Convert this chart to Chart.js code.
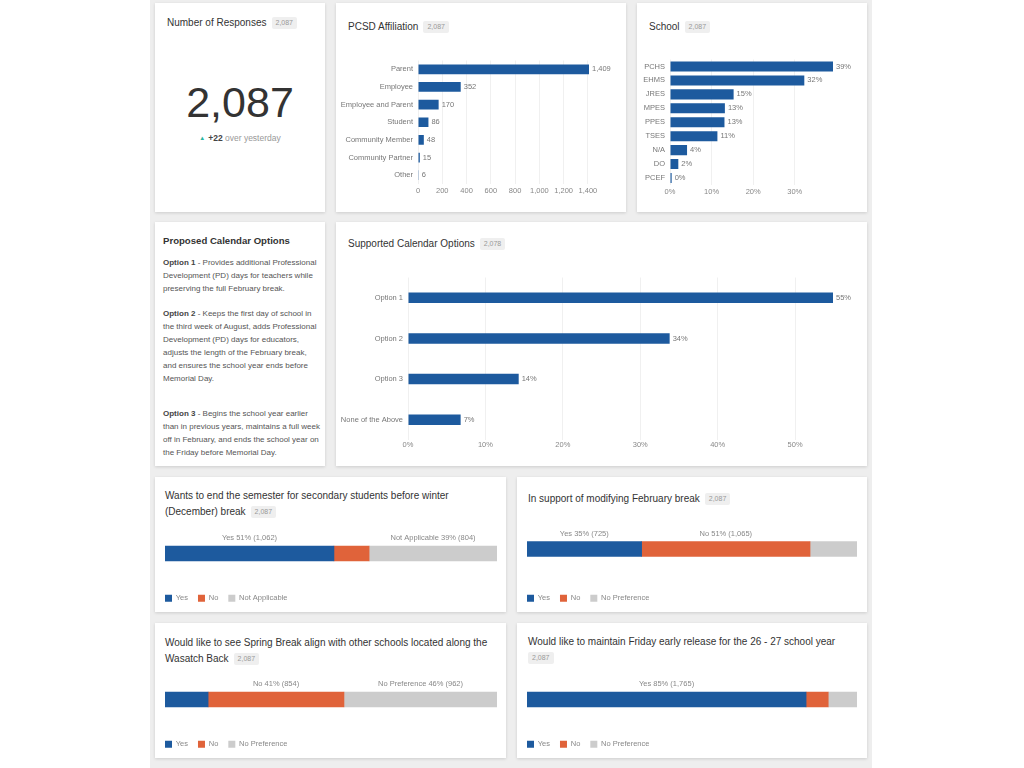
<!DOCTYPE html>
<html>
<head>
<meta charset="utf-8">
<title>Calendar Survey Dashboard</title>
<script src="https://cdn.jsdelivr.net/npm/chart.js@4/dist/chart.umd.min.js"></script>
<style>
  html, body { margin: 0; padding: 0; background: #fff; }
  body { width: 1024px; height: 768px; position: relative; overflow: hidden;
         font-family: "Liberation Sans", Arial, sans-serif; color: #333; }
  .bg { position: absolute; left: 150px; top: 0; width: 722px; height: 768px; background: #eeeeee; }
  .card { position: absolute; background: #fff; box-shadow: 0 1px 3px rgba(0,0,0,0.14); }
  .title { position: absolute; font-size: 10px; line-height: 16px; color: #333; white-space: nowrap; }
  .badge { display: inline-block; font-size: 7px; line-height: 10px; padding: 1px 4px; margin-left: 5px;
           background: #efefef; color: #999; border-radius: 2px; vertical-align: 1px; }
  .box { position: absolute; }
  .big { position: absolute; left: 0; width: 100%; text-align: center; font-size: 43px; line-height: 50px; color: #333; }
  .delta { position: absolute; left: 0; width: 100%; text-align: center; font-size: 8.5px; line-height: 12px; color: #999; }
  .delta b { color: #444; }
  .delta .tri { color: #2bb5a0; font-size: 6px; margin-right: 3px; vertical-align: 1px; }
  .opts { position: absolute; left: 8px; top: 11px; width: 160px; }
  .opts h3 { margin: 0 0 7px 0; font-size: 9.6px; line-height: 16px; color: #333; }
  .opts p { margin: 0; font-size: 8px; line-height: 13px; color: #555; white-space: nowrap; }
  .opts p b { color: #444; }
</style>
</head>
<body>
<div class="bg"></div>

<div class="card" style="left:155px;top:3px;width:170px;height:209px;">
  <div class="title" style="left:12px;top:12px;">Number of Responses<span class="badge">2,087</span></div>
  <div class="big" style="top:74px;">2,087</div>
  <div class="delta" style="top:129px;"><span class="tri">&#9650;</span><b>+22</b> over yesterday</div>
</div>

<div class="card" style="left:336px;top:3px;width:290px;height:209px;">
  <div class="title" style="left:12px;top:16px;">PCSD Affiliation<span class="badge">2,087</span></div>
  <div class="box" style="left:0;top:48px;width:290px;height:153px;"><canvas id="affiliation"></canvas></div>
</div>

<div class="card" style="left:637px;top:3px;width:230px;height:209px;">
  <div class="title" style="left:12px;top:16px;">School<span class="badge">2,087</span></div>
  <div class="box" style="left:0;top:47px;width:230px;height:154px;"><canvas id="school"></canvas></div>
</div>

<div class="card" style="left:155px;top:222px;width:170px;height:244px;">
  <div class="opts">
    <h3>Proposed Calendar Options</h3>
    <p><b>Option 1</b> - Provides additional Professional<br>Development (PD) days for teachers while<br>preserving the full February break.</p>
    <p style="margin-top:12px;"><b>Option 2</b> - Keeps the first day of school in<br>the third week of August, adds Professional<br>Development (PD) days for educators,<br>adjusts the length of the February break,<br>and ensures the school year ends before<br>Memorial Day.</p>
    <p style="margin-top:22px;"><b>Option 3</b> - Begins the school year earlier<br>than in previous years, maintains a full week<br>off in February, and ends the school year on<br>the Friday before Memorial Day.</p>
  </div>
</div>

<div class="card" style="left:336px;top:222px;width:531px;height:244px;">
  <div class="title" style="left:12px;top:14px;">Supported Calendar Options<span class="badge">2,078</span></div>
  <div class="box" style="left:0;top:46px;width:531px;height:187px;"><canvas id="options"></canvas></div>
</div>

<div class="card" style="left:155px;top:477px;width:351px;height:135px;">
  <div class="title" style="left:10px;top:11px;">Wants to end the semester for secondary students before winter<br>(December) break<span class="badge">2,087</span></div>
  <div class="box" style="left:0;top:40px;width:351px;height:95px;"><canvas id="semester"></canvas></div>
</div>

<div class="card" style="left:517px;top:477px;width:350px;height:135px;">
  <div class="title" style="left:11px;top:14px;">In support of modifying February break<span class="badge">2,087</span></div>
  <div class="box" style="left:0;top:36px;width:350px;height:99px;"><canvas id="february"></canvas></div>
</div>

<div class="card" style="left:155px;top:623px;width:351px;height:135px;">
  <div class="title" style="left:10px;top:12px;">Would like to see Spring Break align with other schools located along the<br>Wasatch Back<span class="badge">2,087</span></div>
  <div class="box" style="left:0;top:40px;width:351px;height:95px;"><canvas id="spring"></canvas></div>
</div>

<div class="card" style="left:517px;top:623px;width:350px;height:135px;">
  <div class="title" style="left:11px;top:11px;">Would like to maintain Friday early release for the 26 - 27 school year<br><span class="badge" style="margin-left:0;">2,087</span></div>
  <div class="box" style="left:0;top:40px;width:350px;height:95px;"><canvas id="friday"></canvas></div>
</div>

<script>
// data
const affiliationLabels = ['Parent', 'Employee', 'Employee and Parent', 'Student', 'Community Member', 'Community Partner', 'Other'];
const affiliationCounts = [1409, 352, 170, 86, 48, 15, 6];
const affiliationTicks = [0, 200, 400, 600, 800, 1000, 1200, 1400];

const schoolLabels = ['PCHS', 'EHMS', 'JRES', 'MPES', 'PPES', 'TSES', 'N/A', 'DO', 'PCEF'];
const schoolPercents = [39.2, 32.3, 15.3, 13.2, 13.1, 11.4, 4.1, 2.0, 0.4];
const schoolTicks = [0, 10, 20, 30];

const optionLabels = ['Option 1', 'Option 2', 'Option 3', 'None of the Above'];
const optionPercents = [54.9, 33.8, 14.3, 6.8];
const optionTicks = [0, 10, 20, 30, 40, 50];

const yesNoNaLabels = ['Yes', 'No', 'Not Applicable'];
const yesNoPrefLabels = ['Yes', 'No', 'No Preference'];
const semesterCounts = [1062, 221, 804];
const februaryCounts = [725, 1065, 297];
const springCounts = [271, 854, 962];
const fridayCounts = [1765, 140, 182];

const BLUE = '#1d5a9e';
const ORANGE = '#e0633a';
const GREY = '#cccccc';
const FONT = '"Liberation Sans", Arial, sans-serif';

Chart.defaults.font.family = FONT;
Chart.defaults.animation = false;

// value written just past the end of each bar
function endLabels(format) {
  return {
    id: 'endLabels',
    afterDatasetsDraw(chart) {
      const ctx = chart.ctx;
      const data = chart.data.datasets[0].data;
      ctx.save();
      ctx.font = '7.5px ' + FONT;
      ctx.fillStyle = '#777';
      ctx.textAlign = 'left';
      ctx.textBaseline = 'middle';
      chart.getDatasetMeta(0).data.forEach((bar, i) => {
        ctx.fillText(format(data[i]), bar.x + 3, bar.y);
      });
      ctx.restore();
    }
  };
}

// "Yes 51% (1,062)" above the bigger segments
function segmentLabels(total) {
  return {
    id: 'segmentLabels',
    afterDatasetsDraw(chart) {
      const ctx = chart.ctx;
      ctx.save();
      ctx.font = '7.5px ' + FONT;
      ctx.fillStyle = '#888';
      ctx.textAlign = 'center';
      ctx.textBaseline = 'middle';
      chart.data.datasets.forEach((ds, i) => {
        const v = ds.data[0];
        if (v / total < 0.2) return;
        const bar = chart.getDatasetMeta(i).data[0];
        const txt = ds.label + ' ' + Math.round(v / total * 100) + '% (' + v.toLocaleString('en-US') + ')';
        ctx.fillText(txt, (bar.x + bar.base) / 2, bar.y - bar.height / 2 - 8);
      });
      ctx.restore();
    }
  };
}

function hbar(id, labels, values, o) {
  new Chart(document.getElementById(id), {
    type: 'bar',
    data: {
      labels: labels,
      datasets: [{ data: values, backgroundColor: BLUE, categoryPercentage: 1, barPercentage: o.barPct }]
    },
    options: {
      indexAxis: 'y',
      responsive: true,
      maintainAspectRatio: false,
      layout: { padding: o.padding },
      plugins: { legend: { display: false }, tooltip: { enabled: false } },
      scales: {
        x: {
          min: 0,
          max: Math.max(...values),
          ticks: { autoSkip: false, maxRotation: 0, padding: o.xPad, color: '#888',
                   font: { size: 7.5 }, callback: o.tick },
          afterBuildTicks(s) { s.ticks = o.ticks.map(v => ({ value: v })); },
          grid: { color: '#f0f0f0', drawTicks: false },
          border: { display: false },
          afterFit(s) { s.height = 14; }
        },
        y: {
          ticks: { padding: 5, color: '#777', font: { size: 7.5 } },
          grid: { display: false, drawTicks: false },
          border: { display: false },
          afterFit(s) { s.width = o.yWidth; }
        }
      }
    },
    plugins: [endLabels(o.label)]
  });
}

function stacked(id, labels, counts, o) {
  const total = counts.reduce((a, b) => a + b, 0);
  const colors = [BLUE, ORANGE, GREY];
  new Chart(document.getElementById(id), {
    type: 'bar',
    data: {
      labels: [''],
      datasets: labels.map((l, i) => ({ label: l, data: [counts[i]], backgroundColor: colors[i], barThickness: 15 }))
    },
    options: {
      indexAxis: 'y',
      responsive: true,
      maintainAspectRatio: false,
      layout: { padding: { left: 0, right: o.right, top: o.top, bottom: 0 } },
      plugins: {
        tooltip: { enabled: false },
        legend: {
          position: 'bottom',
          align: 'start',
          labels: { boxWidth: 7, boxHeight: 7, padding: 10, color: '#888', font: { size: 7.5 } }
        }
      },
      scales: {
        x: { stacked: true, display: false, min: 0, max: total },
        y: {
          stacked: true,
          ticks: { display: false },
          grid: { display: false, drawTicks: false },
          border: { display: false },
          afterFit(s) { s.width = 10; }
        }
      }
    },
    plugins: [segmentLabels(total)]
  });
}

hbar('affiliation', affiliationLabels, affiliationCounts, {
  ticks: affiliationTicks, barPct: 0.55, yWidth: 82, xPad: 2,
  padding: { top: 6, right: 37, bottom: 6, left: 0 },
  tick: v => v.toLocaleString('en-US'),
  label: v => v.toLocaleString('en-US')
});

hbar('school', schoolLabels, schoolPercents, {
  ticks: schoolTicks, barPct: 0.72, yWidth: 33, xPad: 2,
  padding: { top: 5, right: 34, bottom: 5, left: 0 },
  tick: v => v + '%',
  label: v => Math.round(v) + '%'
});

hbar('options', optionLabels, optionPercents, {
  ticks: optionTicks, barPct: 0.26, yWidth: 72, xPad: 0,
  padding: { top: 5, right: 34, bottom: 1, left: 0 },
  tick: v => v + '%',
  label: v => Math.round(v) + '%'
});

stacked('semester', yesNoNaLabels, semesterCounts, { right: 9, top: 5.5 });
stacked('february', yesNoPrefLabels, februaryCounts, { right: 10, top: 0.5 });
stacked('spring', yesNoPrefLabels, springCounts, { right: 9, top: 5.5 });
stacked('friday', yesNoPrefLabels, fridayCounts, { right: 10, top: 5.5 });
</script>
</body>
</html>
